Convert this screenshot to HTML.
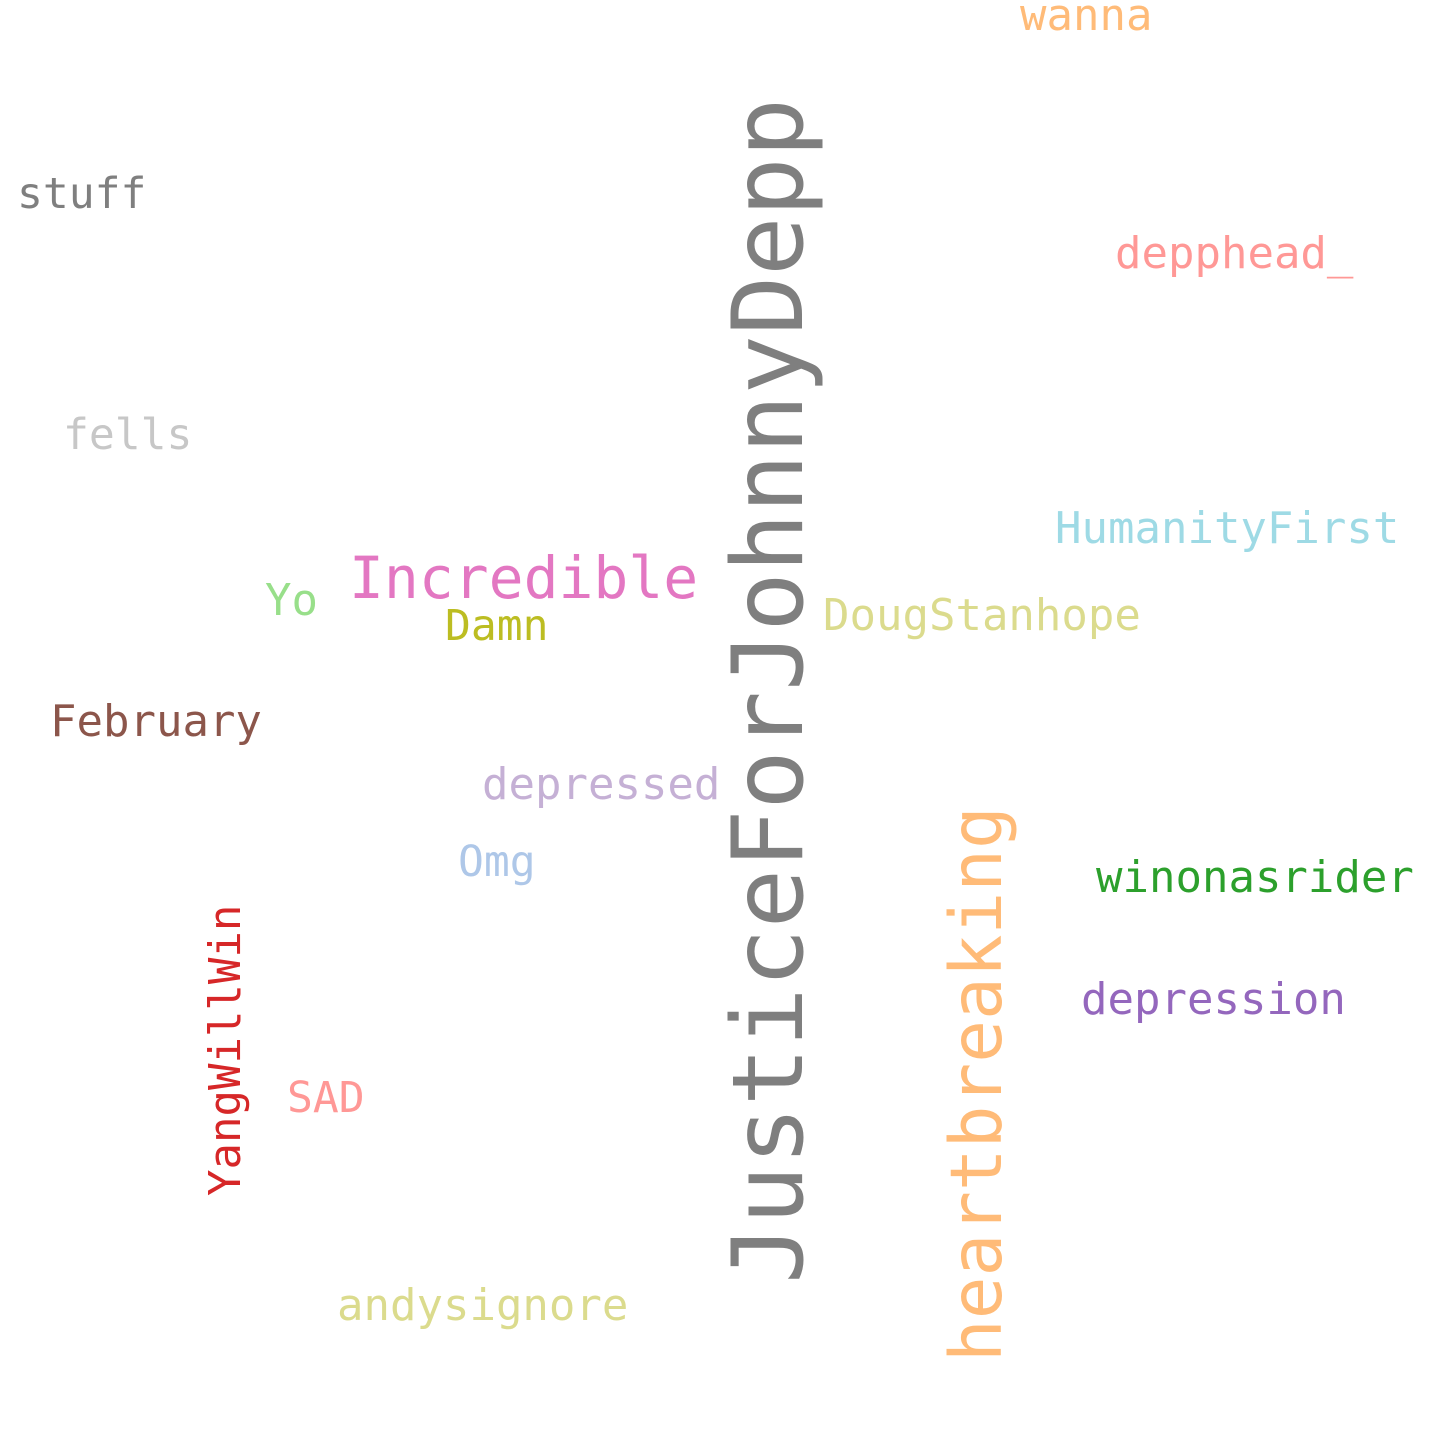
<!DOCTYPE html>
<html>
<head>
<meta charset="utf-8">
<style>
html,body{margin:0;padding:0;background:#fff;}
svg{display:block;}
text{font-family:"DejaVu Sans Mono","Liberation Mono",monospace;}
</style>
</head>
<body>
<svg width="1440" height="1440" viewBox="0 0 1440 1440" xmlns="http://www.w3.org/2000/svg">
<rect width="1440" height="1440" fill="#ffffff"/>
<text x="1020" y="30" font-size="44" fill="#ffbb78">wanna</text>
<text x="17" y="208" font-size="43" fill="#7f7f7f">stuff</text>
<text x="1115" y="268" font-size="44" fill="#ff9896">depphead_</text>
<text x="63" y="449" font-size="43" fill="#c7c7c7">fells</text>
<text x="1055" y="543" font-size="44" fill="#9edae5">HumanityFirst</text>
<text x="349" y="598" font-size="58" fill="#e377c2">Incredible</text>
<text x="265" y="615" font-size="44" fill="#98df8a">Yo</text>
<text x="445" y="640" font-size="43" fill="#bcbd22">Damn</text>
<text x="823" y="630" font-size="44" fill="#dbdb8d">DougStanhope</text>
<text x="50" y="736" font-size="44" fill="#8c564b">February</text>
<text x="482" y="799" font-size="44" fill="#c5b0d5">depressed</text>
<text x="458" y="876" font-size="43" fill="#aec7e8">Omg</text>
<text x="1096" y="892" font-size="44" fill="#2ca02c">winonasrider</text>
<text x="1081" y="1014" font-size="44" fill="#9467bd">depression</text>
<text x="287" y="1112" font-size="43" fill="#ff9896">SAD</text>
<text x="337" y="1320" font-size="44" fill="#dbdb8d">andysignore</text>
<text x="0" y="0" font-size="44" fill="#d62728" transform="translate(240,1196) rotate(-90)">YangWillWin</text>
<text x="0" y="0" font-size="71" fill="#ffbb78" transform="translate(1001,1362) rotate(-90)">heartbreaking</text>
<text x="0" y="0" font-size="98.5" fill="#7f7f7f" transform="translate(802,1284) rotate(-90)">JusticeForJohnnyDepp</text>
</svg>
</body>
</html>
